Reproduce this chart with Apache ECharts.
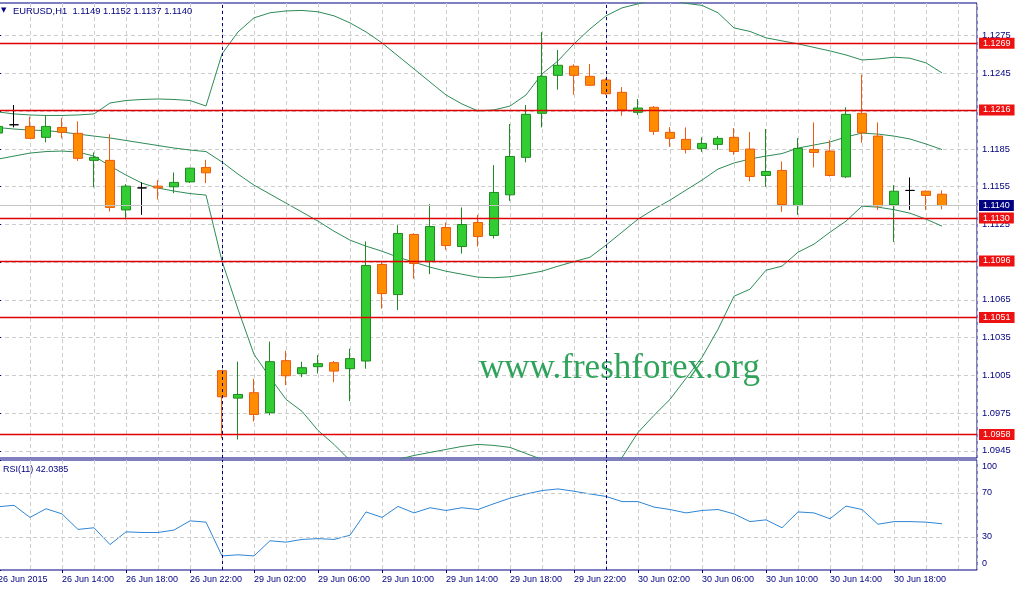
<!DOCTYPE html>
<html><head><meta charset="utf-8">
<script src="https://cdn.jsdelivr.net/npm/echarts@6/dist/echarts.min.js"></script>
<style>html,body{margin:0;padding:0;background:#fff}#c{width:1019px;height:589px}</style>
</head><body><div id="c"></div>
<script>
// ---- data (bar index 0 = 26 Jun 10:00, H1 bars) ----
const timeLabels = ['26 Jun 2015','26 Jun 14:00','26 Jun 18:00','26 Jun 22:00','29 Jun 02:00','29 Jun 06:00','29 Jun 10:00','29 Jun 14:00','29 Jun 18:00','29 Jun 22:00','30 Jun 02:00','30 Jun 06:00','30 Jun 10:00','30 Jun 14:00','30 Jun 18:00'];
const labelBars = [0,4,8,12,16,20,24,28,32,36,40,44,48,52,56];
const opens = [1.11976,1.12042,1.12029,1.11942,1.12021,1.11974,1.11759,1.11759,1.11365,1.11540,
1.11554,1.11549,1.11588,1.11703,1.10087,1.09869,1.09912,1.09753,1.10167,1.10063,
1.10119,1.10151,1.10103,1.10164,1.10931,1.10692,1.11170,1.10955,1.11225,1.11074,
1.11265,1.11162,1.11485,1.11783,1.12133,1.12435,1.12507,1.12427,1.12398,1.12300,
1.12141,1.12181,1.11982,1.11926,1.11854,1.11886,1.11942,1.11849,1.11639,1.11679,
1.11400,1.11846,1.11833,1.11628,1.12133,1.11952,1.11405,1.11520,1.11514,1.11490];
const closes = [1.12029,1.12042,1.11934,1.12029,1.11982,1.11775,1.11783,1.11385,1.11554,1.11540,
1.11540,1.11584,1.11697,1.11660,1.09880,1.09898,1.09739,1.10159,1.10047,1.10111,
1.10143,1.10084,1.10183,1.10923,1.10700,1.11178,1.10939,1.11233,1.11082,1.11249,
1.11154,1.11504,1.11790,1.12125,1.12427,1.12515,1.12435,1.12356,1.12289,1.12160,
1.12175,1.11990,1.11934,1.11846,1.11894,1.11934,1.11830,1.11631,1.11671,1.11408,
1.11854,1.11822,1.11639,1.12125,1.11978,1.11397,1.11514,1.11520,1.11480,1.11400];
const lows = [1.11950,1.12021,1.11934,1.11902,1.11934,1.11755,1.11544,1.11353,1.11290,1.11326,
1.11448,1.11498,1.11580,1.11578,1.09550,1.09540,1.09683,1.09734,1.09972,1.10036,
1.10065,1.09996,1.09845,1.10103,1.10581,1.10569,1.10819,1.10854,1.11047,1.11018,
1.11074,1.11138,1.11437,1.11743,1.12021,1.12321,1.12281,1.12350,1.12280,1.12114,
1.12119,1.11962,1.11867,1.11814,1.11827,1.11843,1.11803,1.11592,1.11549,1.11350,
1.11326,1.11703,1.11630,1.11618,1.11899,1.11365,1.11111,1.11365,1.11365,1.11370];
const highs = [1.12060,1.12199,1.12106,1.12119,1.12095,1.12069,1.11822,1.11968,1.11570,1.11584,
1.11602,1.11663,1.11700,1.11763,1.10090,1.10159,1.10023,1.10318,1.10246,1.10159,
1.10211,1.10164,1.10262,1.11114,1.10955,1.11244,1.11180,1.11411,1.11265,1.11385,
1.11326,1.11721,1.12048,1.12199,1.12778,1.12637,1.12523,1.12525,1.12410,1.12342,
1.12247,1.12190,1.12024,1.12021,1.11942,1.11952,1.12016,1.11984,1.12008,1.11751,
1.11936,1.12061,1.11920,1.12181,1.12440,1.12061,1.11562,1.11623,1.11520,1.11520];
const bbUpper = [1.12144,1.12128,1.12120,1.12116,1.12116,1.12120,1.12128,1.12215,1.12235,1.12243,
1.12247,1.12243,1.12235,1.12191,1.12605,1.12780,1.12892,1.12932,1.12947,1.12951,
1.12940,1.12908,1.12852,1.12780,1.12693,1.12589,1.12486,1.12382,1.12279,1.12207,
1.12152,1.12160,1.12191,1.12279,1.12446,1.12550,1.12685,1.12804,1.12908,1.12971,
1.13003,1.13035,1.13035,1.13007,1.12991,1.12932,1.12812,1.12784,1.12733,1.12709,
1.12685,1.12657,1.12629,1.12597,1.12557,1.12565,1.12579,1.12571,1.12534,1.12454];
const bbMiddle = [1.12020,1.12008,1.12000,1.11996,1.11984,1.11968,1.11952,1.11937,1.11917,1.11897,
1.11877,1.11857,1.11841,1.11829,1.11746,1.11650,1.11562,1.11491,1.11419,1.11348,
1.11276,1.11196,1.11125,1.11077,1.11037,1.10989,1.10950,1.10910,1.10878,1.10854,
1.10830,1.10826,1.10834,1.10854,1.10878,1.10918,1.10954,1.10989,1.11085,1.11188,
1.11292,1.11371,1.11443,1.11523,1.11602,1.11690,1.11738,1.11770,1.11793,1.11813,
1.11857,1.11881,1.11905,1.11945,1.11976,1.11968,1.11952,1.11929,1.11889,1.11845];
const bbLower = [1.11769,1.11793,1.11817,1.11829,1.11833,1.11825,1.11793,1.11714,1.11642,1.11578,
1.11539,1.11515,1.11495,1.11483,1.10958,1.10575,1.10217,1.10034,1.09859,1.09764,
1.09612,1.09501,1.09373,1.09334,1.09349,1.09381,1.09413,1.09437,1.09461,1.09485,
1.09501,1.09493,1.09477,1.09429,1.09381,1.09334,1.09302,1.09286,1.09318,1.09397,
1.09596,1.09732,1.09859,1.10026,1.10193,1.10416,1.10679,1.10735,1.10886,1.10918,
1.11029,1.11093,1.11188,1.11276,1.11395,1.11387,1.11367,1.11339,1.11292,1.11236];
const rsi = [57.5,58.8,47.8,55.7,51.0,36.9,38.4,23.1,34.7,34.1,
34.1,36.3,44.7,43.5,12.8,13.8,12.8,26.6,25.3,27.8,
28.5,27.8,31.6,52.8,47.8,57.8,51.9,56.6,54.1,56.6,
55.0,60.3,65.3,69.1,72.2,73.7,71.6,69.1,66.9,62.2,
62.2,57.2,55.0,51.9,54.1,55.0,51.0,44.0,45.6,38.4,
52.8,51.9,46.6,58.1,55.0,41.6,44.0,44.0,43.5,42.0385];
const levels = [1.1269, 1.1216, 1.1130, 1.1096, 1.1051, 1.0958];
const bidPrice = 1.1140;
const priceTicks = [1.0945,1.0975,1.1005,1.1035,1.1065,1.1095,1.1125,1.1155,1.1185,1.1215,1.1245,1.1275];
const rsiTicks = [0,30,70,100];
const rsiLevels = [30,70];
const separators = [14,38];
const titleText = 'EURUSD,H1  1.1149 1.1152 1.1137 1.1140';
const rsiTitle = 'RSI(11) 42.0385';
const watermark = 'www.freshforex.org';

// ---- chart ----
const NAVY = '#000080';
const RED = '#E00000';
const FONT = 'Liberation Sans';
const bars = opens.map((_, i) => i);
const xMax = 979 / 16;
const gridDash = { color: '#CDCDCD', type: [4, 3], width: 1 };

const chart = echarts.init(document.getElementById('c'), null, { renderer: 'canvas' });

const xBase = (grid) => ({
  type: 'value', gridIndex: grid, min: 0, max: xMax, interval: 2,
  axisLine: { show: false }, axisTick: { show: false }, axisLabel: { show: false },
  splitLine: { show: true, lineStyle: gridDash }
});

const lvlLabel = (bg) => ({ show: true, position: 'end', distance: 2, formatter: (p) => Number(p.value).toFixed(4),
  color: '#fff', backgroundColor: bg, fontSize: 9, fontFamily: FONT, padding: [1, 4, 1, 4], lineHeight: 9 });

const option = {
  animation: false,
  backgroundColor: '#ffffff',
  textStyle: { fontFamily: FONT },
  title: [
    { text: '▼', left: 1, top: 7, padding: 0, textStyle: { fontSize: 7, color: NAVY, fontWeight: 'normal', fontFamily: 'DejaVu Sans' } },
    { text: titleText, left: 13, top: 7, padding: 0, textStyle: { fontSize: 9.4, color: NAVY, fontWeight: 'normal', fontFamily: FONT } },
    { text: rsiTitle, left: 3, top: 465, padding: 0, textStyle: { fontSize: 9, color: NAVY, fontWeight: 'normal', fontFamily: FONT } }
  ],
  graphic: [
    { type: 'text', left: 479, top: 351, silent: true, z: 1,
      style: { text: watermark, font: '35px "Liberation Serif"', fill: '#2FA35A' } }
  ],
  grid: [
    { left: -2, top: 3, width: 979, height: 455, show: true, borderColor: NAVY, borderWidth: 1, backgroundColor: '#fff', outerBoundsMode: 'none', containLabel: false },
    { left: -2, top: 460, width: 979, height: 110, show: true, borderColor: NAVY, borderWidth: 1, backgroundColor: '#fff', outerBoundsMode: 'none', containLabel: false }
  ],
  xAxis: [
    xBase(0),
    xBase(1),
    { type: 'value', gridIndex: 1, min: 0, max: xMax, position: 'bottom',
      axisLine: { show: false }, splitLine: { show: false },
      axisTick: { show: true, customValues: labelBars, length: 3, lineStyle: { color: NAVY } },
      axisLabel: { show: true, customValues: labelBars, align: 'left', margin: 5, fontSize: 9, color: NAVY, fontFamily: FONT,
        formatter: (v) => { const i = labelBars.indexOf(Math.round(v)); return i >= 0 ? timeLabels[i] : ''; } } }
  ],
  yAxis: [
    { type: 'value', gridIndex: 0, position: 'right', min: 1.09393, max: 1.1301, scale: true,
      axisLine: { show: false },
      axisTick: { show: true, customValues: priceTicks, length: 3, lineStyle: { color: NAVY } },
      axisLabel: { show: true, customValues: priceTicks, margin: 5, fontSize: 9.4, color: NAVY, fontFamily: FONT, formatter: (v) => v.toFixed(4) },
      splitLine: { show: true, lineStyle: gridDash } },
    { type: 'value', gridIndex: 1, position: 'right', min: 0, max: 100,
      axisLine: { show: false },
      axisTick: { show: true, customValues: rsiTicks, length: 3, lineStyle: { color: NAVY } },
      axisLabel: { show: true, customValues: rsiTicks, margin: 5, fontSize: 9, color: NAVY, fontFamily: FONT,
        formatter: (v) => v === 100 ? '{t|100}' : (v === 0 ? '{b|0}' : String(v)),
        rich: { t: { fontSize: 9, color: NAVY, fontFamily: FONT, padding: [14, 0, 0, 0] },
                b: { fontSize: 9, color: NAVY, fontFamily: FONT, padding: [0, 0, 12, 0] } } },
      splitLine: { show: false } }
  ],
  series: [
    {
      name: 'upper', type: 'line', xAxisIndex: 0, yAxisIndex: 0, symbol: 'none', z: 2,
      data: bars.map(i => [i, bbUpper[i]]), lineStyle: { color: '#2E8B57', width: 1 },
      markLine: { silent: true, symbol: ['none', 'none'], label: { show: false }, precision: 5,
        lineStyle: { color: NAVY, type: [3, 3], width: 1 },
        data: separators.map(s => ({ xAxis: s })) }
    },
    { name: 'middle', type: 'line', xAxisIndex: 0, yAxisIndex: 0, symbol: 'none', z: 2,
      data: bars.map(i => [i, bbMiddle[i]]), lineStyle: { color: '#2E8B57', width: 1 } },
    { name: 'lower', type: 'line', xAxisIndex: 0, yAxisIndex: 0, symbol: 'none', z: 2,
      data: bars.map(i => [i, bbLower[i]]), lineStyle: { color: '#2E8B57', width: 1 } },
    {
      name: 'EURUSD', type: 'candlestick', xAxisIndex: 0, yAxisIndex: 0, z: 3,
      dimensions: ['t', 'open', 'close', 'lowest', 'highest'],
      encode: { x: 't', y: ['open', 'close', 'lowest', 'highest'] },
      data: bars.map(i => [i, opens[i], closes[i], lows[i], highs[i]]),
      barWidth: 9,
      itemStyle: { color: '#32CD32', color0: '#FF8C00', borderColor: '#1E8B1E', borderColor0: '#EE5A0E', borderColorDoji: '#000000', borderWidth: 1 }
    },
    {
      name: 'bid', type: 'line', xAxisIndex: 0, yAxisIndex: 0, symbol: 'none', z: 2, data: [],
      markLine: { silent: true, symbol: ['none', 'none'], precision: 5,
        lineStyle: { color: '#C4C4C4', type: 'solid', width: 1 }, label: lvlLabel(NAVY),
        data: [{ yAxis: bidPrice }] }
    },
    {
      name: 'levels', type: 'line', xAxisIndex: 0, yAxisIndex: 0, symbol: 'none', z: 4, data: [],
      color: RED,
      markLine: { silent: true, symbol: ['none', 'none'], precision: 5,
        lineStyle: { color: RED, type: 'solid', width: 1.4, opacity: 1 }, label: lvlLabel('#EE1111'),
        data: levels.map(v => ({ yAxis: v })) }
    },
    {
      name: 'RSI', type: 'line', xAxisIndex: 1, yAxisIndex: 1, symbol: 'none', z: 2,
      data: bars.map(i => [i, rsi[i]]), lineStyle: { color: '#2E86D6', width: 1 },
      markLine: { silent: true, symbol: ['none', 'none'], label: { show: false }, precision: 5,
        data: rsiLevels.map(v => ({ yAxis: v, lineStyle: { color: '#CDCDCD', type: [4, 3], width: 1 } }))
          .concat(separators.map(s => ({ xAxis: s, lineStyle: { color: NAVY, type: [3, 3], width: 1 } }))) }
    }
  ]
};
chart.setOption(option);
</script>
</body></html>
